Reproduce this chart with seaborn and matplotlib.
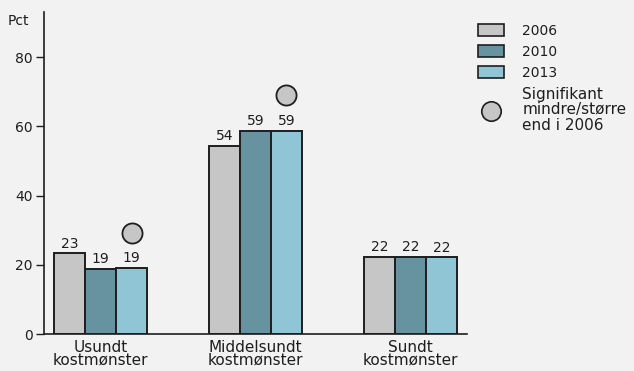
import matplotlib
matplotlib.use("Agg")
import matplotlib.pyplot as plt
import seaborn as sns
import pandas as pd
from matplotlib.patches import Patch
from matplotlib.lines import Line2D

# Data: share of population (Pct) by dietary pattern and survey year
categories = ["Usundt\nkostmønster", "Middelsundt\nkostmønster", "Sundt\nkostmønster"]
years = ["2006", "2010", "2013"]
pct_2006 = [23.3, 54.3, 22.2]
pct_2010 = [18.7, 58.7, 22.3]
pct_2013 = [19.0, 58.7, 22.1]
# Significant change vs. 2006 for the 2013 bar
significant_2013 = [True, True, False]
yticks = [0, 20, 40, 60, 80]

colors = ["#c6c6c6", "#67929f", "#8fc5d5"]
bg = "#f2f2f2"
ink = "#1e1e1e"

df = pd.DataFrame({
    "kategori": categories * 3,
    "år": [y for y in years for _ in categories],
    "pct": pct_2006 + pct_2010 + pct_2013,
})

sns.set_theme(style="white")
plt.rcParams["font.family"] = ["DejaVu Sans"]
plt.rcParams["text.color"] = ink
plt.rcParams["axes.labelcolor"] = ink
plt.rcParams["xtick.color"] = ink
plt.rcParams["ytick.color"] = ink

fig = plt.figure(figsize=(6.34, 3.71), dpi=100, facecolor=bg)
ax = fig.add_axes([44 / 634, 1 - 334 / 371, (467 - 44) / 634, (334 - 12) / 371])
ax.set_facecolor(bg)

sns.barplot(
    data=df, x="kategori", y="pct", hue="år", order=categories, hue_order=years,
    palette=colors, width=0.6, gap=0, edgecolor=ink, linewidth=1.4,
    saturation=1, legend=False, ax=ax,
)

# value labels above each bar
for cont in ax.containers:
    ax.bar_label(cont, labels=[f"{b.get_height():.0f}" for b in cont],
                 padding=2, fontsize=10, color=ink)

# significance markers above the 2013 bars
bars_2013 = ax.containers[2]
for bar, sig in zip(bars_2013, significant_2013):
    if sig:
        xc = bar.get_x() + bar.get_width() / 2
        ax.scatter([xc], [bar.get_height() + 10.3], s=210, color="#c6c6c6",
                   edgecolor=ink, linewidth=1.3, zorder=5, clip_on=False)

ax.set_xlim(-0.365, 2.365)
ax.set_ylim(0, 93)
ax.set_yticks(yticks)
ax.set_xlabel("")
ax.set_ylabel("")
ax.tick_params(axis="y", length=6, width=1, colors=ink, labelsize=10, pad=2, left=True)
ax.tick_params(axis="x", length=0, labelsize=11, pad=4)
for lab in ax.get_xticklabels():
    lab.set_linespacing(0.85)
for s in ["top", "right"]:
    ax.spines[s].set_visible(False)
for s in ["left", "bottom"]:
    ax.spines[s].set_color(ink)
    ax.spines[s].set_linewidth(1.2)

fig.text(8 / 634, 1 - 21 / 371, "Pct", fontsize=10, va="center", ha="left")

handles = [Patch(facecolor=c, edgecolor=ink, linewidth=1.2) for c in colors]
handles.append(Line2D([], [], marker="o", linestyle="none", markersize=14,
                      markerfacecolor="#c6c6c6", markeredgecolor=ink, markeredgewidth=1.2))
labels = years + ["Signifikant\nmindre/større\nend i 2006"]
leg = fig.legend(handles, labels, loc="upper left",
                 bbox_to_anchor=(478 / 634, 1 - 24 / 371), frameon=False,
                 fontsize=10, handlelength=1.9, handleheight=0.95,
                 handletextpad=1.3, labelspacing=0.5, borderpad=0, borderaxespad=0)
leg.get_texts()[3].set_fontsize(11)
leg.get_texts()[3].set_linespacing(1.05)

fig.savefig("out.png", dpi=100, facecolor=bg)
